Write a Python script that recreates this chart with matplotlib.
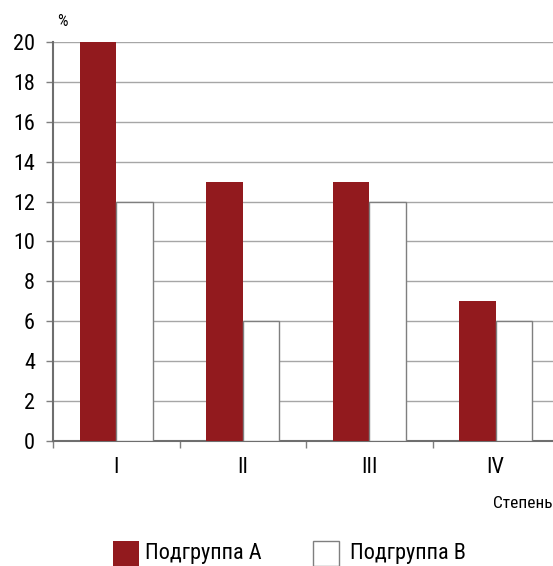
import numpy as np
import matplotlib.pyplot as plt
from matplotlib.patches import Rectangle

categories = ["I", "II", "III", "IV"]
group_a = [20, 13, 13, 7]
group_b = [12, 6, 12, 6]
series_names = ["Подгруппа А", "Подгруппа В"]

red = "#921a1e"
plt.rcParams["font.family"] = ["Roboto Condensed", "Roboto", "DejaVu Sans"]

fig = plt.figure(figsize=(5.53, 5.66), dpi=100)
ax = fig.add_axes([53 / 553, 1 - 441 / 566, 506 / 553, 399 / 566])

x = np.arange(len(categories))
w = 0.29
ax.bar(x - w / 2, group_a, w, color=red, zorder=3)
ax.bar(x + w / 2, group_b, w, color="white", edgecolor="#7f7f7f", linewidth=1, zorder=3)

ax.set_xlim(-0.5, 3.5)
ax.set_ylim(0, 20)
ax.set_yticks(range(0, 21, 2))
ax.grid(axis="y", color="#a6a6a6", linewidth=1, zorder=0)
ax.set_axisbelow(True)

ax.set_xticks(np.arange(-0.5, 4, 1))
ax.set_xticklabels([])
ax.tick_params(axis="x", length=5, color="#7f7f7f", width=1)
ax.tick_params(axis="y", length=5, color="#7f7f7f", width=1, labelsize=16, pad=8)
for lbl, xi in zip(categories, x):
    ax.text(xi, -0.8, lbl, ha="center", va="top", fontsize=16)

for s in ["top", "right"]:
    ax.spines[s].set_visible(False)
for s in ["left", "bottom"]:
    ax.spines[s].set_color("#6e6e6e")
    ax.spines[s].set_linewidth(1.5)

fig.text(62 / 553, 1 - 22 / 566, "%", fontsize=12, ha="center", va="center")
fig.text(552 / 553, 1 - 503 / 566, "Степень", fontsize=12.5, ha="right", va="center")

# legend drawn by hand at the bottom
fig.patches.append(Rectangle((113 / 553, 1 - 566 / 566), 26 / 553, 25 / 566,
                             transform=fig.transFigure, facecolor=red, edgecolor="none"))
fig.patches.append(Rectangle((313 / 553, 1 - 566 / 566), 26 / 553, 25 / 566,
                             transform=fig.transFigure, facecolor="white", edgecolor="#7f7f7f", linewidth=1))
fig.text(145 / 553, 1 - 554 / 566, series_names[0], fontsize=16, va="center")
fig.text(350 / 553, 1 - 554 / 566, series_names[1], fontsize=16, va="center")

fig.savefig("out.png", dpi=100)
